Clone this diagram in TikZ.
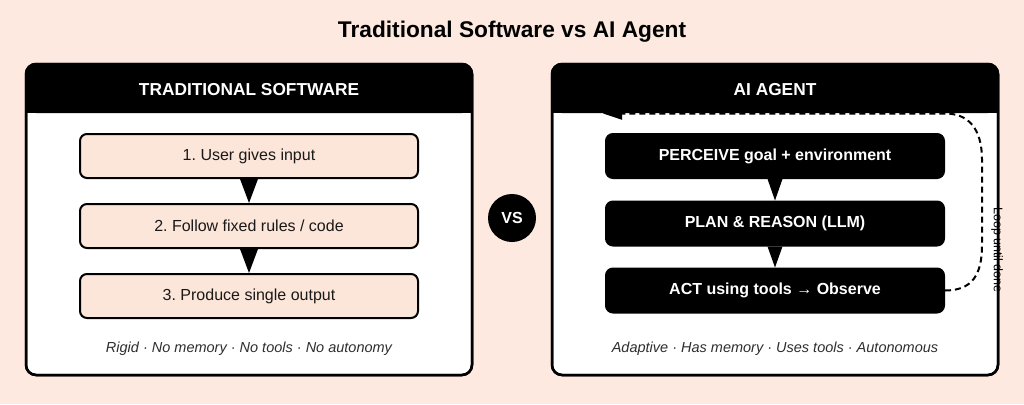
\documentclass[tikz,border=0pt]{standalone}
\usepackage{fontspec}
\setmainfont{Liberation Sans}
\usetikzlibrary{arrows.meta}
\definecolor{peach}{HTML}{FDE9DF}
\definecolor{boxpeach}{HTML}{FCE5D9}
\definecolor{footgray}{HTML}{2E2E2E}
\frenchspacing

\begin{document}
\begin{tikzpicture}[x=1pt,y=-1pt]
    \tikzset{panel/.style = {draw, line width=2.5pt, fill=white, rounded corners=10pt}}
    \tikzset{frame/.style = {draw, line width=2.5pt, rounded corners=10pt}}
    \tikzset{head/.style = {text=white, font=\fontsize{17.3}{20}\selectfont\bfseries}}
    \tikzset{stage/.style = {shape=rectangle, draw, line width=2pt, rounded corners=7pt, minimum width=338pt, minimum height=44pt}}
    \tikzset{tradstage/.style = {stage, fill=boxpeach, text=black!90, font=\fontsize{16}{19}\selectfont}}
    \tikzset{agentstage/.style = {stage, fill=black, text=white, font=\fontsize{16}{19}\selectfont\bfseries}}
    \tikzset{foot/.style = {text=footgray, font=\fontsize{14.5}{17}\selectfont\itshape}}
    \tikzset{loopline/.style = {draw, line width=2pt, dash pattern=on 6pt off 4pt, -{Triangle[length=19pt,width=12pt]}}}

    % background
    \fill[peach] (0,0) rectangle (1024,404);
    \useasboundingbox (0,0) rectangle (1024,404);

    \node[font=\fontsize{22.7}{26}\selectfont\bfseries] (title) at (512,32) {Traditional Software vs AI Agent};

    % left panel
    \draw[panel] (26,64) rectangle (472,375);
    \fill[rounded corners=10pt] (26,64) rectangle (472,113);
    \fill (26,90) rectangle (472,113);
    \draw[frame] (26,64) rectangle (472,375);
    \node[head] (tradhead) at (249,90) {TRADITIONAL SOFTWARE};

    \node[tradstage] (input) at (249,156) {1. User gives input};
    \node[tradstage] (rules) at (249,226) {2. Follow fixed rules / code};
    \node[tradstage] (output) at (249,296) {3. Produce single output};

    \fill ([xshift=-9pt]input.south) -- ([xshift=9pt]input.south) -- (rules.north) -- cycle;
    \fill ([xshift=-9pt]rules.south) -- ([xshift=9pt]rules.south) -- (output.north) -- cycle;

    \node[foot] (tradfoot) at (249,349) {Rigid · No memory · No tools · No autonomy};

    % vs
    \node[shape=circle, fill=black, minimum size=48pt, text=white, font=\fontsize{16}{19}\selectfont\bfseries] (vs) at (512,218) {VS};

    % right panel
    \draw[panel] (552,64) rectangle (998,375);
    \node[agentstage] (perceive) at (775,156) {PERCEIVE goal + environment};
    \node[agentstage] (plan) at (775,223.5) {PLAN \& REASON (LLM)};
    \node[agentstage] (act) at (775,290.5) {ACT using tools → Observe};

    \fill ([xshift=-7.5pt]perceive.south) -- ([xshift=7.5pt]perceive.south) -- (plan.north) -- cycle;
    \fill ([xshift=-7.5pt]plan.south) -- ([xshift=7.5pt]plan.south) -- (act.north) -- cycle;

    % loop back
    \coordinate (looptip) at (603,113.5);
    \draw[loopline] (act.east) .. controls (972,290.5) and (982,275) .. (982,245) -- (982,160)
        .. controls (982,128) and (968,113.5) .. (945,113.5) -- (looptip);

    \fill[rounded corners=10pt] (552,64) rectangle (998,113);
    \fill (552,90) rectangle (998,113);
    \draw[frame] (552,64) rectangle (998,375);
    \node[head] (agenthead) at (775,90) {AI AGENT};

    \node[font=\fontsize{12.5}{15}\selectfont, rotate=-90] (looplabel) at (997,250) {Loop until done};

    \node[foot] (agentfoot) at (775,349) {Adaptive · Has memory · Uses tools · Autonomous};
\end{tikzpicture}
\end{document}
